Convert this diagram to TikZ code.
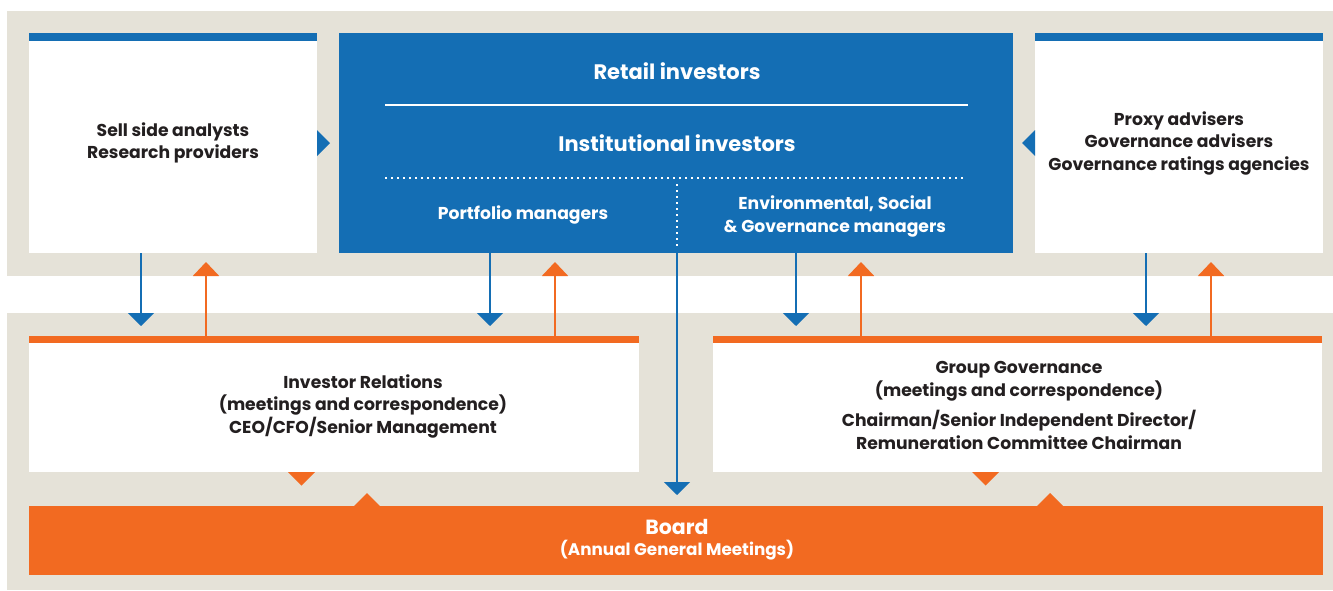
\documentclass[tikz,border=0pt]{standalone}
\usepackage{fontspec}
\setmainfont{Poppins}
\usetikzlibrary{arrows.meta}
\definecolor{cblue}{HTML}{146EB4}
\definecolor{corange}{HTML}{F26A21}
\definecolor{cbeige}{HTML}{E5E2D8}
\definecolor{ctext}{HTML}{231F20}
\tikzset{
  panel/.style={fill=white, inner sep=0pt, anchor=north west},
  lbl/.style={font=\bfseries\fontsize{17.2}{22.5}\selectfont, text=ctext, align=center, inner sep=0pt},
  wlbl/.style={font=\bfseries\fontsize{17.2}{23}\selectfont, text=white, align=center, inner sep=0pt},
  big/.style={font=\bfseries\fontsize{21}{24}\selectfont, text=white, align=center, inner sep=0pt},
  barrow/.style={draw=cblue, line width=2pt, -{Triangle[width=26pt,length=13pt]}},
  oarrow/.style={draw=corange, line width=2pt, -{Triangle[width=26pt,length=14pt]}},
}
\begin{document}
\begin{tikzpicture}[x=1pt,y=-1pt]
\useasboundingbox (0,0) rectangle (1333,590);
% background bands
\fill[cbeige] (7,11) rectangle (1333,276);
\fill[cbeige] (7,313) rectangle (1333,590);
% top panels
\node[panel, minimum width=288pt, minimum height=220pt] (sell) at (29,33) {};
\fill[cblue] (29,33) rectangle (317,41);
\node[panel, fill=cblue, minimum width=674pt, minimum height=220pt] (inst) at (339,33) {};
\node[panel, minimum width=288pt, minimum height=220pt] (proxy) at (1035,33) {};
\fill[cblue] (1035,33) rectangle (1323,41);
% bottom panels
\node[panel, minimum width=610pt, minimum height=136pt] (ir) at (29,336) {};
\fill[corange] (29,336) rectangle (639,343);
\node[panel, minimum width=609pt, minimum height=136pt] (gg) at (713,336) {};
\fill[corange] (713,336) rectangle (1322,343);
\node[panel, fill=corange, minimum width=1294pt, minimum height=69pt] (board) at (29,506) {};
% texts
\node[lbl] (t1) at (173,143) {Sell side analysts\\Research providers};
\node[lbl] (t2) at (1179,143) {Proxy advisers\\Governance advisers\\Governance ratings agencies};
\node[big] (t3) at (677,71) {Retail investors};
\node[big] (t4) at (677,143) {Institutional investors};
\node[wlbl] (t5) at (523,215) {Portfolio managers};
\node[wlbl] (t6) at (835,216) {Environmental, Social\\\& Governance managers};
\node[lbl] (t7) at (363,406) {Investor Relations\\(meetings and correspondence)\\CEO/CFO/Senior Management};
\node[lbl] (t8) at (1019,381) {Group Governance\\(meetings and correspondence)};
\node[lbl] (t9) at (1019,430) {Chairman/Senior Independent Director/\\Remuneration Committee Chairman};
\node[font=\bfseries\fontsize{20.5}{24}\selectfont, text=white, inner sep=0pt] (t10) at (677,527) {Board};
\node[font=\bfseries\fontsize{16.8}{18}\selectfont, text=white, inner sep=0pt] (t11) at (677,550) {(Annual General Meetings)};
% lines inside institutional box
\draw[white, line width=1.5pt] (385,105) -- (968,105);
\draw[white, line width=2pt, dash pattern=on 2pt off 4pt] (385,178) -- (966,178);
\draw[white, line width=2pt, dash pattern=on 2pt off 4pt] (677,184) -- (677,248);
% side triangles
\fill[cblue] (317,130) -- (330,143) -- (317,156) -- cycle;
\fill[cblue] (1035,130) -- (1022,143) -- (1035,156) -- cycle;
% arrow coordinates
\coordinate (a1) at (141,326);
\coordinate (b1) at (206,262);
\coordinate (a2) at (490,326);
\coordinate (b2) at (555,262);
\coordinate (a3) at (796,326);
\coordinate (b3) at (861,262);
\coordinate (a4) at (1146,326);
\coordinate (b4) at (1211,262);
\coordinate (a5) at (677,495);
\draw[barrow] (sell.south -| a1) -- (a1);
\draw[oarrow] (ir.north -| b1) -- (b1);
\draw[barrow] (inst.south -| a2) -- (a2);
\draw[oarrow] (ir.north -| b2) -- (b2);
\draw[barrow] (inst.south -| a3) -- (a3);
\draw[oarrow] (gg.north -| b3) -- (b3);
\draw[barrow] (proxy.south -| a4) -- (a4);
\draw[oarrow] (gg.north -| b4) -- (b4);
\draw[barrow] (inst.south -| a5) -- (a5);
% board triangles
\fill[corange] (288,472) -- (315,472) -- (301.5,485.5) -- cycle;
\fill[corange] (354,506) -- (380,506) -- (367,493) -- cycle;
\fill[corange] (972,472) -- (999,472) -- (985.5,485.5) -- cycle;
\fill[corange] (1037,506) -- (1063,506) -- (1050,493) -- cycle;
\end{tikzpicture}
\end{document}
